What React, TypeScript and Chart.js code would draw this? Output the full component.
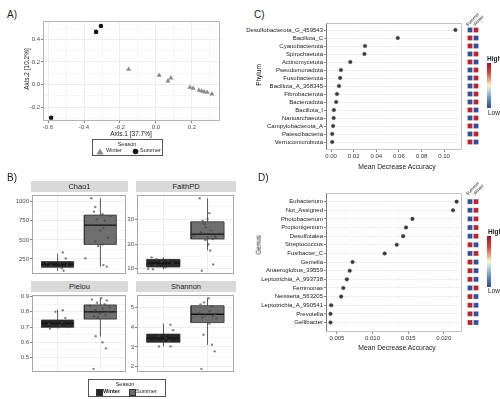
import React, { useEffect, useRef } from 'react';
import { Chart, registerables } from 'chart.js';

const FONT = "'Liberation Sans', Arial, Helvetica, sans-serif";

// ---------------- Panel A: PCoA ----------------
const pcoaWinterX = [-0.152, 0.018, 0.067, 0.083, 0.189, 0.207, 0.239, 0.254, 0.268, 0.285, 0.311];
const pcoaWinterY = [0.135, 0.082, 0.031, 0.058, -0.025, -0.034, -0.052, -0.058, -0.064, -0.069, -0.084];
const pcoaSummerX = [-0.583, -0.333, -0.306];
const pcoaSummerY = [-0.295, 0.467, 0.52];
const pcoaXTicks = [-0.6, -0.4, -0.2, 0.0, 0.2];
const pcoaYTicks = [-0.2, 0.0, 0.2, 0.4];

// ---------------- Panel B: alpha diversity ----------------
const seasons = ['Winter', 'Summer'];
const chao1Winter = [335, 256, 205, 188, 176, 165, 150, 130, 95];
const chao1WinterJit = [0.12, 0.19, -0.25, 0.05, 0.22, -0.15, -0.32, 0.1, 0.14];
const chao1Summer = [1045, 930, 870, 840, 810, 770, 750, 700, 660, 620, 530, 480, 440, 420, 260, 170, 150];
const chao1SummerJit = [-0.21, -0.12, -0.15, 0.05, 0.24, -0.08, 0.1, -0.22, 0.07, 0.0, 0.18, -0.12, 0.05, -0.05, -0.35, 0.07, 0.15];
const chao1WinterBox = [95, 142, 179, 216, 318];
const chao1SummerBox = [150, 440, 694, 825, 1045];
const chao1Ticks = [250, 500, 750, 1000];

const faithWinter = [14.6, 13.9, 13.3, 12.8, 12.2, 11.4, 10.6, 10.0, 9.8];
const faithWinterJit = [-0.27, -0.16, 0.1, -0.05, 0.2, -0.2, 0.05, -0.35, -0.24];
const faithSummer = [38.5, 32.5, 30.2, 29.4, 28.1, 26.8, 25.5, 24.8, 23.4, 23.0, 22.8, 22.5, 22.0, 21.6, 19.9, 17.4, 11.7, 9.2];
const faithSummerJit = [-0.18, 0.04, 0.0, -0.11, -0.07, -0.04, 0.08, -0.15, -0.31, 0.17, 0.0, 0.19, 0.12, -0.05, 0.02, 0.06, 0.13, -0.13];
const faithWinterBox = [9.8, 10.7, 12.3, 13.8, 14.6];
const faithSummerBox = [17.4, 22.0, 24.0, 29.0, 38.5];
const faithTicks = [10, 20, 30];

const pielouWinter = [0.81, 0.8, 0.76, 0.73, 0.72, 0.71, 0.7, 0.7, 0.69];
const pielouWinterJit = [0.12, -0.05, 0.18, 0.1, -0.2, 0.05, 0.25, -0.1, -0.18];
const pielouSummer = [0.89, 0.88, 0.875, 0.86, 0.85, 0.84, 0.83, 0.82, 0.81, 0.8, 0.79, 0.78, 0.77, 0.76, 0.64, 0.6, 0.56, 0.425];
const pielouSummerJit = [0.02, -0.2, 0.15, -0.08, 0.1, -0.24, 0.22, 0.05, -0.12, 0.18, -0.02, 0.12, -0.15, -0.06, -0.11, 0.05, 0.13, -0.16];
const pielouWinterBox = [0.69, 0.698, 0.724, 0.746, 0.813];
const pielouSummerBox = [0.637, 0.752, 0.799, 0.845, 0.89];
const pielouTicks = [0.5, 0.6, 0.7, 0.8, 0.9];

const shannonWinter = [4.12, 3.85, 3.55, 3.45, 3.3, 3.03, 3.03];
const shannonWinterJit = [0.16, 0.22, -0.1, 0.05, 0.12, -0.1, 0.16];
const shannonSummer = [5.46, 5.25, 5.15, 5.05, 4.8, 4.7, 4.65, 4.6, 4.55, 4.5, 4.45, 4.18, 3.62, 3.11, 2.78, 1.9];
const shannonSummerJit = [0.02, -0.08, -0.16, 0.1, 0.05, -0.2, 0.17, -0.05, 0.12, -0.12, 0.2, 0.04, -0.09, 0.1, 0.16, -0.14];
const shannonWinterBox = [3.03, 3.24, 3.45, 3.65, 4.18];
const shannonSummerBox = [3.11, 4.23, 4.65, 5.08, 5.46];
const shannonTicks = [2, 3, 4, 5];

// ---------------- Panel C: Phylum importance ----------------
const phylumNames = ['Desulfobacterota_G_459543', 'Bacillota_C', 'Cyanobacteriota', 'Spirochaetota', 'Actinomycetota', 'Pseudomonadota', 'Fusobacteriota', 'Bacillota_A_368345', 'Fibrobacterota', 'Bacteroidota', 'Bacillota_I', 'Nanoarchaeota', 'Campylobacterota_A', 'Patescibacteria', 'Verrucomicrobiota'];
const phylumMDA = [0.11, 0.059, 0.03, 0.0295, 0.017, 0.0087, 0.008, 0.007, 0.0052, 0.0045, 0.0025, 0.0023, 0.0018, 0.001, 0.001];
const phylumHeatSummer = [-0.71, 0.71, 0.71, -0.71, 0.71, -0.71, -0.71, -0.71, -0.71, -0.71, 0.71, -0.71, 0.71, -0.71, 0.71];
const phylumHeatWinter = [0.71, -0.71, -0.71, 0.71, -0.71, 0.71, 0.71, 0.71, 0.71, 0.71, -0.71, 0.71, -0.71, 0.71, -0.71];
const phylumXTicks = [0.0, 0.02, 0.04, 0.06, 0.08, 0.1];

// ---------------- Panel D: Genus importance ----------------
const genusNames = ['Eubacterium', 'Not_Assigned', 'Photobacterium', 'Propionigenium', 'Desulfotalea', 'Streptococcus', 'Fusibacter_C', 'Gemella', 'Anaeroglobus_39559', 'Leptotrichia_A_993738', 'Ferrimonas', 'Neisseria_563205', 'Leptotrichia_A_990541', 'Prevotella', 'Gellibacter'];
const genusMDA = [0.0218, 0.0213, 0.0156, 0.0147, 0.0143, 0.0134, 0.0117, 0.0072, 0.0068, 0.0064, 0.0059, 0.0056, 0.0042, 0.0041, 0.0041];
const genusHeatSummer = [-0.71, -0.71, -0.71, -0.71, -0.71, 0.71, -0.71, 0.71, 0.71, 0.71, -0.71, 0.71, 0.71, 0.71, 0.71];
const genusHeatWinter = [0.71, 0.71, 0.71, 0.71, 0.71, -0.71, 0.71, -0.71, -0.71, -0.71, 0.71, -0.71, -0.71, -0.71, -0.71];
const genusXTicks = [0.005, 0.01, 0.015, 0.02];

// ---------------- helpers ----------------
const panelBorder = {
  id: 'panelBorder',
  afterDraw(chart: any, _a: any, opts: any) {
    if (!opts || !opts.color) return;
    const { left, top, right, bottom } = chart.chartArea;
    const ctx = chart.ctx;
    const l = Math.round(left) + 0.5, t = Math.round(top) + 0.5, r = Math.round(right) - 0.5, b = Math.round(bottom) - 0.5;
    ctx.save();
    ctx.lineWidth = 1;
    ctx.strokeStyle = opts.color;
    ctx.strokeRect(l, t, r - l, b - t);
    if (opts.leftColor) {
      ctx.strokeStyle = opts.leftColor;
      ctx.beginPath();
      ctx.moveTo(l, t);
      ctx.lineTo(l, b);
      ctx.stroke();
    }
    ctx.restore();
  },
};
Chart.register(...registerables, panelBorder);

type Box = { x: number; y: number; w: number; h: number };
type Area = { l: number; t: number; r: number; b: number };

const near = (a: number, v: number) => Math.abs(a - v) < 1e-9 + 1e-6 * Math.abs(a);

function makeTicks(majors: number[], min: number, max: number, minor: boolean) {
  const vals = majors.filter((v) => v >= min - 1e-12 && v <= max + 1e-12);
  if (minor && majors.length > 1) {
    const step = majors[1] - majors[0];
    for (let m = majors[0] - step / 2; m <= max + 1e-12; m += step) {
      if (m >= min - 1e-12) vals.push(m);
    }
  }
  return vals.sort((a, b) => a - b);
}

function axis(o: any) {
  const ticks = makeTicks(o.majors, o.min, o.max, !!o.minor);
  const isMajor = (v: number) => o.majors.some((a: number) => near(a, v));
  return {
    type: 'linear',
    position: o.position,
    min: o.min,
    max: o.max,
    reverse: !!o.reverse,
    afterBuildTicks: (s: any) => {
      s.ticks = ticks.map((v) => ({ value: v }));
    },
    afterFit: (s: any) => {
      if (o.position === 'left') s.width = o.size;
      else s.height = o.size;
    },
    ticks: {
      display: o.labels !== false,
      autoSkip: false,
      maxRotation: 0,
      minRotation: 0,
      padding: o.pad ?? 1,
      font: { family: FONT, size: o.font ?? 6 },
      color: o.color ?? '#4d4d4d',
      callback: (v: number) => (isMajor(v) ? o.fmt(v) : ''),
    },
    grid: {
      display: true,
      drawOnChartArea: o.grid !== false,
      color: (c: any) => (!c.tick ? 'rgba(0,0,0,0)' : isMajor(c.tick.value) ? o.gridMajor ?? '#e6e6e6' : o.gridMinor ?? '#f2f2f2'),
      lineWidth: o.gridWidth ?? 0.7,
      drawTicks: o.tickLen !== 0,
      tickLength: o.tickLen ?? 2,
      tickColor: (c: any) => (c.tick && isMajor(c.tick.value) ? o.tickColor ?? '#4d4d4d' : 'rgba(0,0,0,0)'),
      tickWidth: 0.7,
    },
    border: { display: false, dash: o.dash ?? [] },
  };
}

function options(c: Box, a: Area, scales: any, border: any) {
  return {
    animation: false,
    responsive: false,
    maintainAspectRatio: false,
    devicePixelRatio: 1,
    events: [],
    layout: { padding: { left: 0, top: a.t - c.y, right: c.x + c.w - a.r, bottom: 0 } },
    plugins: { legend: { display: false }, tooltip: { enabled: false }, title: { display: false }, panelBorder: border },
    scales,
  };
}

// ---------------- geometry ----------------
const A_CANVAS: Box = { x: 0, y: 0, w: 228, h: 132 };
const A_AREA: Area = { l: 43, t: 21, r: 220, b: 121 };

const FACETS = [
  { name: 'Chao1', canvas: { x: 4, y: 190, w: 126, h: 89 }, area: { l: 32, t: 192, r: 128, b: 277 }, min: 48, max: 1093, majors: chao1Ticks, fmt: (v: number) => String(Math.round(v)), winter: chao1Winter, winterJit: chao1WinterJit, summer: chao1Summer, summerJit: chao1SummerJit, winterBox: chao1WinterBox, summerBox: chao1SummerBox },
  { name: 'FaithPD', canvas: { x: 110, y: 190, w: 128, h: 89 }, area: { l: 137, t: 192, r: 236, b: 277 }, min: 7.7, max: 40, majors: faithTicks, fmt: (v: number) => String(Math.round(v)), winter: faithWinter, winterJit: faithWinterJit, summer: faithSummer, summerJit: faithSummerJit, winterBox: faithWinterBox, summerBox: faithSummerBox },
  { name: 'Pielou', canvas: { x: 4, y: 290, w: 126, h: 87 }, area: { l: 32, t: 292, r: 128, b: 375 }, min: 0.402, max: 0.913, majors: pielouTicks, fmt: (v: number) => v.toFixed(1), winter: pielouWinter, winterJit: pielouWinterJit, summer: pielouSummer, summerJit: pielouSummerJit, winterBox: pielouWinterBox, summerBox: pielouSummerBox },
  { name: 'Shannon', canvas: { x: 110, y: 290, w: 128, h: 87 }, area: { l: 137, t: 292, r: 236, b: 375 }, min: 1.72, max: 5.64, majors: shannonTicks, fmt: (v: number) => String(Math.round(v)), winter: shannonWinter, winterJit: shannonWinterJit, summer: shannonSummer, summerJit: shannonSummerJit, winterBox: shannonWinterBox, summerBox: shannonSummerBox },
];

const C_CANVAS: Box = { x: 238, y: 0, w: 228, h: 165 };
const C_AREA: Area = { l: 326, t: 23, r: 464, b: 150 };
const C_ROWS = { min: -0.875, max: 15 };
const CH_CANVAS: Box = { x: 462, y: 0, w: 22, h: 165 };
const CH_AREA: Area = { l: 467, t: 23, r: 479, b: 150 };

const D_CANVAS: Box = { x: 238, y: 185, w: 228, h: 170 };
const D_AREA: Area = { l: 326, t: 193, r: 463, b: 332 };
const D_ROWS = { min: -1.0, max: 15.1 };
const DH_CANVAS: Box = { x: 462, y: 185, w: 22, h: 170 };
const DH_AREA: Area = { l: 467, t: 193, r: 479, b: 332 };

const boxFill = ['#262626', '#6e6e6e'];

// ---------------- configs ----------------
function pcoaConfig() {
  const c = A_CANVAS, a = A_AREA;
  return {
    type: 'scatter',
    data: {
      datasets: [
        { label: 'Summer', data: pcoaSummerX.map((x, i) => ({ x, y: pcoaSummerY[i] })), pointStyle: 'circle', pointRadius: 2.3, backgroundColor: '#141414', borderColor: '#141414', borderWidth: 0 },
        { label: 'Winter', data: pcoaWinterX.map((x, i) => ({ x, y: pcoaWinterY[i] })), pointStyle: 'triangle', pointRadius: 2.9, backgroundColor: '#8a8a8a', borderColor: '#8a8a8a', borderWidth: 0 },
      ],
    },
    options: options(c, a, {
      x: axis({ position: 'bottom', size: c.y + c.h - a.b, min: -0.628, max: 0.356, majors: pcoaXTicks, minor: true, fmt: (v: number) => v.toFixed(1) }),
      y: axis({ position: 'left', size: a.l - c.x, min: -0.324, max: 0.564, majors: pcoaYTicks, minor: true, fmt: (v: number) => v.toFixed(1) }),
    }, { color: '#b5b5b5' }),
  };
}

function boxDatasets(center: number, stats: number[], fill: string) {
  const [lo, q1, med, q3, hi] = stats;
  const hw = 0.375;
  const common = { type: 'line', showLine: true, pointRadius: 0, borderWidth: 0.8, borderColor: '#333333', tension: 0, fill: false };
  return [
    { ...common, data: [{ x: center - hw, y: med }, { x: center + hw, y: med }], borderWidth: 1.3, borderColor: '#121212' },
    { ...common, data: [{ x: center, y: q3 }, { x: center, y: hi }] },
    { ...common, data: [{ x: center, y: lo }, { x: center, y: q1 }] },
    { ...common, data: [{ x: center - hw, y: q1 }, { x: center + hw, y: q1 }, { x: center + hw, y: q3 }, { x: center - hw, y: q3 }, { x: center - hw, y: q1 }], fill: 'shape', backgroundColor: fill },
  ];
}

function facetConfig(f: any) {
  const pts = (vals: number[], jit: number[], c: number) => vals.map((v, i) => ({ x: c + jit[i], y: v }));
  const datasets = [
    { type: 'scatter', data: [...pts(f.winter, f.winterJit, 1), ...pts(f.summer, f.summerJit, 2)], pointRadius: 1.2, backgroundColor: 'rgba(70,70,70,0.65)', borderWidth: 0 },
    ...boxDatasets(2, f.summerBox, boxFill[1]),
    ...boxDatasets(1, f.winterBox, boxFill[0]),
  ];
  const c = f.canvas, a = f.area;
  return {
    type: 'scatter',
    data: { datasets },
    options: options(c, a, {
      x: axis({ position: 'bottom', size: c.y + c.h - a.b, min: 0.4, max: 2.6, majors: [1, 2], minor: false, labels: false, tickLen: 0, fmt: (v: number) => seasons[v - 1] }),
      y: axis({ position: 'left', size: a.l - c.x, min: f.min, max: f.max, majors: f.majors, minor: true, fmt: f.fmt }),
    }, { color: '#a8a8a8' }),
  };
}

function importanceConfig(c: Box, a: Area, rows: any, names: string[], vals: number[], xmin: number, xmax: number, xticks: number[], fmt: (v: number) => string) {
  return {
    type: 'scatter',
    data: {
      datasets: [
        { data: vals.map((v, i) => ({ x: v, y: i })), pointStyle: 'circle', pointRadius: 1.8, backgroundColor: '#3c3c3c', borderColor: '#2a2a2a', borderWidth: 0.4 },
      ],
    },
    options: options(c, a, {
      x: axis({ position: 'bottom', size: c.y + c.h - a.b, min: xmin, max: xmax, majors: xticks, minor: false, grid: false, fmt, color: '#333', tickColor: '#555' }),
      y: axis({ position: 'left', size: a.l - c.x, min: rows.min, max: rows.max, reverse: true, majors: names.map((_, i) => i), minor: false, fmt: (v: number) => names[Math.round(v)], color: '#1a1a1a', gridMajor: '#cfcfcf', dash: [1, 1.6], gridWidth: 0.8, tickColor: '#555' }),
    }, { color: '#c4c4c4', leftColor: '#7a7a7a' }),
  };
}

const heatColor = (v: number) => (v > 0 ? '#b2282e' : '#32509a');

function heatConfig(c: Box, a: Area, rows: any, colA: number[], colB: number[]) {
  const pts = [...colA.map((v, i) => ({ x: 0, y: i, v })), ...colB.map((v, i) => ({ x: 1, y: i, v }))];
  return {
    type: 'scatter',
    data: {
      datasets: [
        { data: pts, pointStyle: 'rect', pointRadius: 3.5, backgroundColor: pts.map((p) => heatColor(p.v)), borderColor: 'rgba(255,255,255,0.5)', borderWidth: 0.4, clip: false },
      ],
    },
    options: {
      animation: false,
      responsive: false,
      devicePixelRatio: 1,
      events: [],
      layout: { padding: { left: a.l - c.x, top: a.t - c.y, right: c.x + c.w - a.r, bottom: c.y + c.h - a.b } },
      plugins: { legend: { display: false }, tooltip: { enabled: false } },
      scales: {
        x: { type: 'linear', min: -0.5, max: 1.5, display: false },
        y: { type: 'linear', min: rows.min, max: rows.max, reverse: true, display: false },
      },
    },
  };
}

// ---------------- components ----------------
function ChartCanvas({ box, make }: { box: Box; make: () => any }) {
  const ref = useRef<HTMLCanvasElement>(null);
  useEffect(() => {
    const chart = new Chart(ref.current as HTMLCanvasElement, make());
    return () => chart.destroy();
  }, []);
  return <canvas ref={ref} width={box.w} height={box.h} style={{ position: 'absolute', left: box.x, top: box.y, width: box.w, height: box.h }} />;
}

function T({ x, y, size = 6, children, weight = 400, color = '#1a1a1a' }: any) {
  return <div style={{ position: 'absolute', left: x, top: y, fontSize: size, lineHeight: 1, whiteSpace: 'nowrap', fontWeight: weight, color }}>{children}</div>;
}

function CT({ cx, cy, size = 6, rot = 0, children, weight = 400, color = '#1a1a1a' }: any) {
  return (
    <div style={{ position: 'absolute', left: cx, top: cy, fontSize: size, lineHeight: 1, whiteSpace: 'nowrap', fontWeight: weight, color, transform: `translate(-50%,-50%) rotate(${rot}deg)` }}>
      {children}
    </div>
  );
}

function Strip({ x, y, w, h, label }: any) {
  return (
    <div style={{ position: 'absolute', left: x, top: y, width: w, height: h, background: '#d9d9d9', fontSize: 7.5, lineHeight: `${h}px`, textAlign: 'center', color: '#1a1a1a' }}>{label}</div>
  );
}

const gradient = 'linear-gradient(to bottom, #a50f26 0%, #d6473a 22%, #f4a582 38%, #fdf4c8 50%, #a9cde4 64%, #5d8ec4 80%, #2e4a93 100%)';

export default function App() {
  return (
    <div style={{ position: 'absolute', left: 0, top: 0, width: 500, height: 399, background: '#ffffff', overflow: 'hidden', fontFamily: FONT, color: '#1a1a1a' }}>
      {/* Panel A */}
      <T x={7} y={10} size={10}>A)</T>
      <ChartCanvas box={A_CANVAS} make={pcoaConfig} />
      <CT cx={131} cy={134} size={6.5}>Axis.1 [37.7%]</CT>
      <CT cx={27} cy={69} size={6.5} rot={-90}>Axis.2 [10.2%]</CT>
      <div style={{ position: 'absolute', left: 92, top: 139, width: 71, height: 17, border: '1px solid #555', boxSizing: 'border-box' }} />
      <CT cx={127} cy={145} size={5.5}>Season</CT>
      <svg style={{ position: 'absolute', left: 96, top: 148 }} width={8} height={7}>
        <polygon points="4,0.5 7.5,6.5 0.5,6.5" fill="#8a8a8a" />
      </svg>
      <T x={106} y={148} size={5.5}>Winter</T>
      <svg style={{ position: 'absolute', left: 132, top: 148 }} width={7} height={7}>
        <circle cx={3.5} cy={3.5} r={2.8} fill="#141414" />
      </svg>
      <T x={140} y={148} size={5.5}>Summer</T>

      {/* Panel B */}
      <T x={7} y={173} size={10}>B)</T>
      {FACETS.map((f) => (
        <React.Fragment key={f.name}>
          <Strip x={f.area.l - 1} y={f.area.t - 11} w={f.area.r - f.area.l + 1} h={11} label={f.name} />
          <ChartCanvas box={f.canvas} make={() => facetConfig(f)} />
        </React.Fragment>
      ))}
      <div style={{ position: 'absolute', left: 88, top: 379, width: 78, height: 18, border: '1px solid #555', boxSizing: 'border-box' }} />
      <CT cx={125} cy={385} size={5.5}>Season</CT>
      <div style={{ position: 'absolute', left: 96, top: 389, width: 5, height: 5, background: boxFill[0], border: '0.5px solid #333' }} />
      <T x={103} y={389} size={5.5} weight={700}>Winter</T>
      <div style={{ position: 'absolute', left: 129, top: 389, width: 5, height: 5, background: boxFill[1], border: '0.5px solid #333' }} />
      <T x={136} y={389} size={5.5}>Summer</T>

      {/* Panel C */}
      <T x={254} y={10} size={10}>C)</T>
      <ChartCanvas box={C_CANVAS} make={() => importanceConfig(C_CANVAS, C_AREA, C_ROWS, phylumNames, phylumMDA, -0.0045, 0.1155, phylumXTicks, (v) => v.toFixed(2))} />
      <ChartCanvas box={CH_CANVAS} make={() => heatConfig(CH_CANVAS, CH_AREA, C_ROWS, phylumHeatSummer, phylumHeatWinter)} />
      <CT cx={397} cy={167} size={6.8}>Mean Decrease Accuracy</CT>
      <CT cx={259} cy={75} size={6.5} rot={-90}>Phylum</CT>
      <CT cx={473} cy={20} size={4.5} rot={-45}>Summer</CT>
      <CT cx={479} cy={21} size={4.5} rot={-45}>Winter</CT>
      <div style={{ position: 'absolute', left: 487, top: 63, width: 4, height: 45, background: gradient }} />
      <T x={487} y={56} size={6.5} weight={700}>High</T>
      <T x={488} y={110} size={6.5}>Low</T>

      {/* Panel D */}
      <T x={258} y={173} size={10}>D)</T>
      <ChartCanvas box={D_CANVAS} make={() => importanceConfig(D_CANVAS, D_AREA, D_ROWS, genusNames, genusMDA, 0.00347, 0.0225, genusXTicks, (v) => v.toFixed(3))} />
      <ChartCanvas box={DH_CANVAS} make={() => heatConfig(DH_CANVAS, DH_AREA, D_ROWS, genusHeatSummer, genusHeatWinter)} />
      <CT cx={397} cy={348} size={6.8}>Mean Decrease Accuracy</CT>
      <CT cx={259} cy={245} size={6.5} rot={-90}>Genus</CT>
      <CT cx={473} cy={189} size={4.5} rot={-45}>Summer</CT>
      <CT cx={479} cy={190} size={4.5} rot={-45}>Winter</CT>
      <div style={{ position: 'absolute', left: 487, top: 236, width: 4, height: 51, background: gradient }} />
      <T x={488} y={229} size={6.5} weight={700}>High</T>
      <T x={488} y={288} size={6.5}>Low</T>
    </div>
  );
}
